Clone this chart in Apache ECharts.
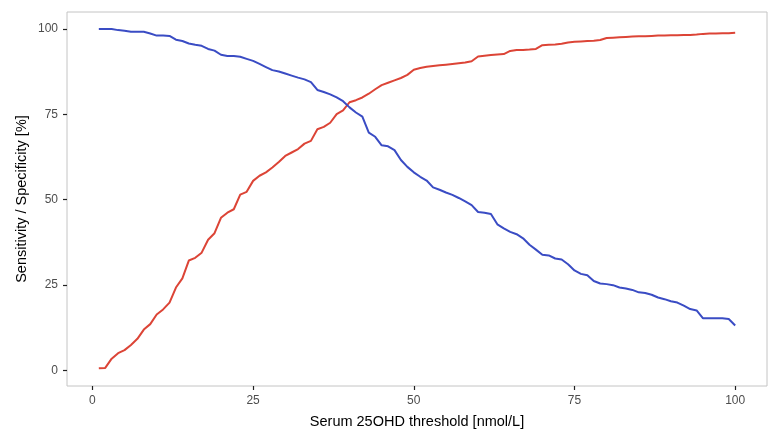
<!DOCTYPE html>
<html>
<head>
<meta charset="utf-8">
<script src="https://cdn.jsdelivr.net/npm/echarts@6/dist/echarts.min.js"></script>
<style>
html,body{margin:0;padding:0;background:#fff;}
#chart{width:768px;height:429px;}
</style>
</head>
<body>
<div id="chart"></div>
<script>
// Threshold values (nmol/L)
const thresholds = [];
for (let i = 1; i <= 100; i++) thresholds.push(i);

// Sensitivity (%) - red, increasing
const sensitivity = [
  0.7, 0.8, 3.5, 5.1, 6.0, 7.5, 9.3, 12.0, 13.6, 16.4,
  17.9, 19.9, 24.3, 27.0, 32.2, 33.0, 34.5, 38.3, 40.2, 44.7,
  46.2, 47.2, 51.5, 52.3, 55.5, 57.0, 58.0, 59.4, 61.0, 62.8,
  63.8, 64.8, 66.4, 67.2, 70.6, 71.3, 72.5, 75.0, 76.1, 78.5,
  79.1, 79.9, 81.0, 82.3, 83.5, 84.2, 84.9, 85.6, 86.5, 88.0,
  88.5, 88.9, 89.1, 89.3, 89.5, 89.7, 89.9, 90.1, 90.5, 91.9,
  92.1, 92.3, 92.5, 92.6, 93.5, 93.8, 93.8, 93.9, 94.1, 95.2,
  95.3, 95.4, 95.6, 96.0, 96.2, 96.3, 96.4, 96.5, 96.7, 97.3,
  97.4, 97.5, 97.6, 97.7, 97.8, 97.8, 97.9, 98.0, 98.0, 98.1,
  98.1, 98.2, 98.2, 98.3, 98.5, 98.6, 98.6, 98.7, 98.7, 98.8
];

// Specificity (%) - blue, decreasing
const specificity = [
  99.9, 99.9, 99.9, 99.6, 99.4, 99.1, 99.1, 99.1, 98.6, 98.0,
  98.0, 97.9, 96.8, 96.4, 95.7, 95.3, 95.0, 94.1, 93.6, 92.4,
  92.0, 92.0, 91.8, 91.2, 90.6, 89.7, 88.8, 87.9, 87.5, 86.9,
  86.3, 85.7, 85.2, 84.4, 82.1, 81.5, 80.8, 79.9, 78.8, 77.0,
  75.5, 74.3, 69.6, 68.4, 65.9, 65.6, 64.5, 61.6, 59.6, 58.0,
  56.7, 55.6, 53.6, 52.9, 52.1, 51.4, 50.5, 49.5, 48.4, 46.4,
  46.2, 45.8, 42.8, 41.6, 40.6, 39.9, 38.7, 36.8, 35.4, 33.9,
  33.7, 32.8, 32.5, 31.1, 29.3, 28.3, 27.9, 26.2, 25.5, 25.3,
  25.0, 24.3, 24.0, 23.6, 22.9, 22.7, 22.2, 21.4, 20.9, 20.3,
  19.9, 19.0, 18.0, 17.6, 15.3, 15.3, 15.3, 15.3, 15.1, 13.2
];

const xTicks = [0, 25, 50, 75, 100];
const yTicks = [0, 25, 50, 75, 100];

const chart = echarts.init(document.getElementById('chart'), null, {renderer: 'canvas'});
const font = 'Liberation Sans, Arial, sans-serif';

chart.setOption({
  animation: false,
  backgroundColor: '#ffffff',
  grid: {
    left: 67, right: 1, top: 12, bottom: 43,
    containLabel: false, outerBoundsMode: 'none',
    show: true, borderColor: '#c4c4c4', borderWidth: 1, backgroundColor: '#ffffff'
  },
  xAxis: {
    type: 'value',
    min: -3.95, max: 104.95,
    name: 'Serum 25OHD threshold [nmol/L]',
    nameLocation: 'middle', nameGap: 28,
    nameTextStyle: {fontFamily: font, fontSize: 14.5, color: '#000'},
    axisLine: {show: false, onZero: false},
    splitLine: {show: false},
    axisTick: {show: true, customValues: xTicks, length: 4, lineStyle: {color: '#222', width: 1.2}},
    axisLabel: {customValues: xTicks, fontFamily: font, fontSize: 12, color: '#4d4d4d', margin: 9}
  },
  yAxis: {
    type: 'value',
    min: -4.5, max: 104.9,
    name: 'Sensitivity / Specificity [%]',
    nameLocation: 'middle', nameGap: 38, nameRotate: 90, nameMoveOverlap: false,
    nameTextStyle: {fontFamily: font, fontSize: 14.5, color: '#000'},
    axisLine: {show: false, onZero: false},
    splitLine: {show: false},
    axisTick: {show: true, customValues: yTicks, length: 4, lineStyle: {color: '#222', width: 1.2}},
    axisLabel: {customValues: yTicks, fontFamily: font, fontSize: 12, color: '#4d4d4d', margin: 9}
  },
  series: [
    {
      name: 'Sensitivity', type: 'line', showSymbol: false,
      data: thresholds.map((t, i) => [t, sensitivity[i]]),
      lineStyle: {color: '#dc4436', width: 2},
      itemStyle: {color: '#dc4436'}
    },
    {
      name: 'Specificity', type: 'line', showSymbol: false,
      data: thresholds.map((t, i) => [t, specificity[i]]),
      lineStyle: {color: '#3a4cc4', width: 2},
      itemStyle: {color: '#3a4cc4'}
    }
  ]
});
</script>
</body>
</html>
